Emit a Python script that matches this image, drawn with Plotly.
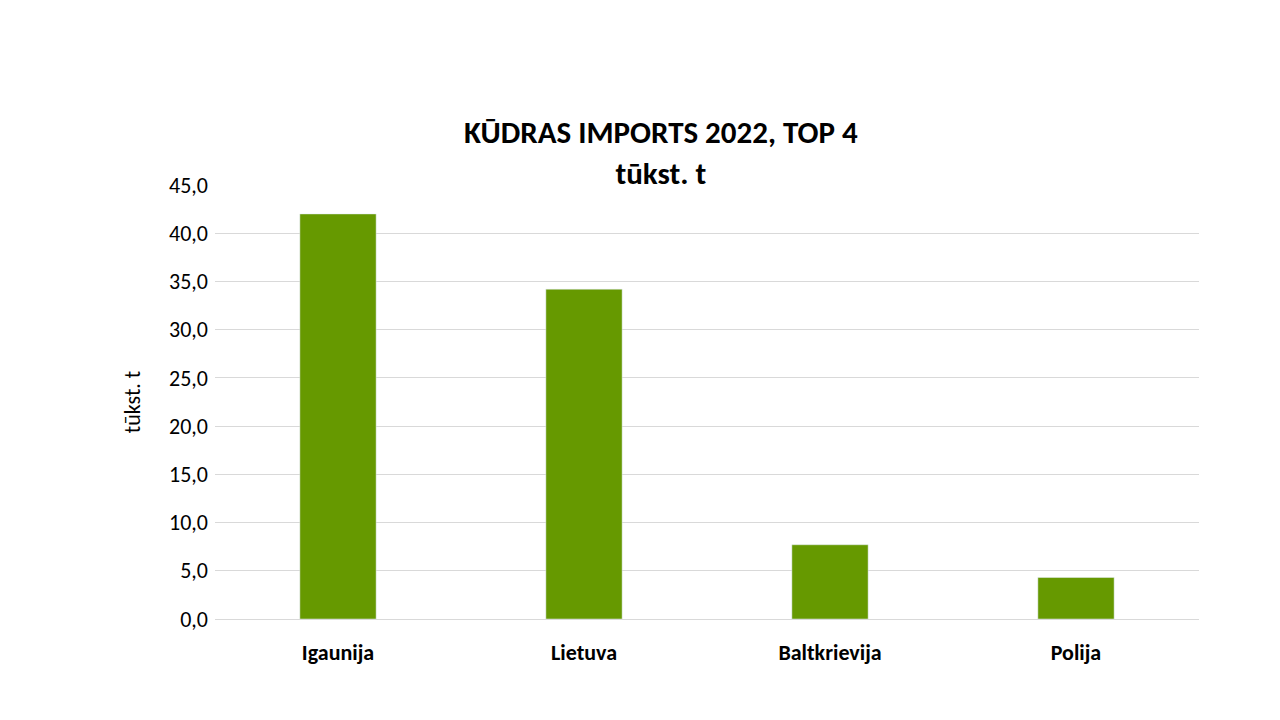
import plotly.graph_objects as go

categories = ["Igaunija", "Lietuva", "Baltkrievija", "Polija"]
values = [42.0, 34.2, 7.7, 4.3]
tick_vals = [0, 5, 10, 15, 20, 25, 30, 35, 40, 45]
tick_text = ["0,0", "5,0", "10,0", "15,0", "20,0", "25,0", "30,0", "35,0", "40,0", "45,0"]

fig = go.Figure(go.Bar(x=categories, y=values, marker_color="#669900", width=0.31))
fig.update_layout(
    width=1280, height=720,
    paper_bgcolor="white", plot_bgcolor="white",
    font=dict(family="Carlito, Liberation Sans, Open Sans, sans-serif", color="black"),
    title=dict(text="<b>KŪDRAS IMPORTS 2022, TOP 4<br>tūkst. t</b>", x=0.51, xanchor="center",
               y=0.812, yanchor="middle", font=dict(size=31)),
    margin=dict(l=207, r=89, t=177, b=109),
    showlegend=False,
)
fig.update_yaxes(range=[0, 45], tickvals=tick_vals, ticktext=tick_text, showgrid=True,
                 gridcolor="#d9d9d9", zeroline=False, tickfont=dict(size=22),
                 ticklabelstandoff=6,
                 title=dict(text="tūkst. t", font=dict(size=22), standoff=22))
fig.update_xaxes(showline=True, linecolor="#d9d9d9", tickfont=dict(size=22),
                 ticklabelstandoff=14,
                 tickvals=categories, ticktext=[f"<b>{c}</b>" for c in categories])
fig.write_html("out.html")
